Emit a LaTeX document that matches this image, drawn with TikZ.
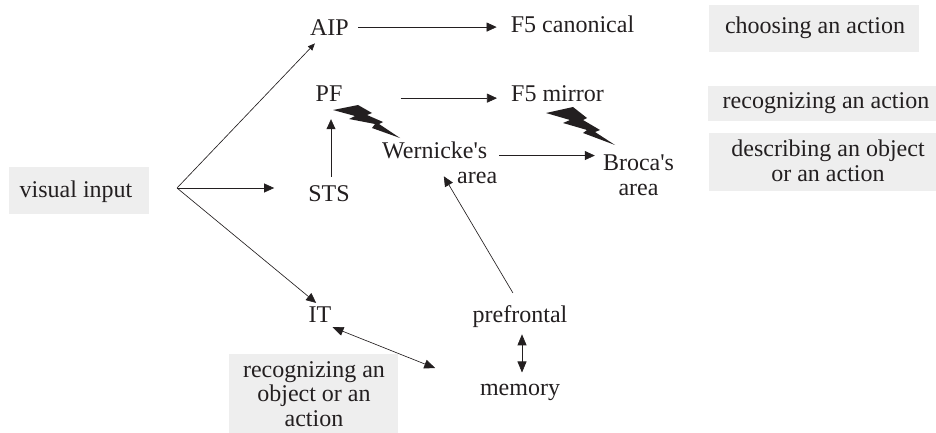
\documentclass[tikz,border=0pt]{standalone}
\usepackage{fontspec}
\setmainfont{Liberation Serif}
\usetikzlibrary{arrows.meta}
\definecolor{boxgray}{RGB}{238,238,238}
\definecolor{ink}{RGB}{35,31,32}
\tikzset{
 lab/.style={inner sep=0pt,anchor=base,font=\fontsize{24}{24.5}\selectfont,align=center,text=ink},
 graybox/.style={fill=boxgray,draw=none},
 conn/.style={draw=ink,line width=0.65pt,-{Triangle[length=10pt,width=9pt]}},
 smallconn/.style={draw=ink,line width=0.65pt,-{Triangle[length=7pt,width=6pt]}},
 biconn/.style={draw=ink,line width=0.65pt,{Triangle[length=11pt,width=9pt]}-{Triangle[length=11pt,width=9pt]}},
 bolt/.style={fill=ink,draw=none}
}
\begin{document}
\begin{tikzpicture}[x=1pt,y=-1pt]
\useasboundingbox (0,0) rectangle (936,433);
\fill[graybox] (9,167) rectangle (149,214);
\fill[graybox] (709,5) rectangle (919,52);
\fill[graybox] (708,86) rectangle (936,121);
\fill[graybox] (709,133) rectangle (936,191);
\fill[graybox] (229,354) rectangle (398,433);
\node[lab] (vis) at (76,197) {visual input};
\node[lab] (choose) at (815,34) {choosing an action};
\node[lab] (recact) at (826,109) {recognizing an action};
\node[lab] (desc) at (828,181) {describing an object\\or an action};
\node[lab] (recobj) at (314,426) {recognizing an\\object or an\\action};
\node[lab] (aip) at (329.5,36) {AIP};
\node[lab] (f5c) at (572.5,33) {F5 canonical};
\node[lab] (pf) at (329,102) {PF};
\node[lab] (f5m) at (557.5,102) {F5 mirror};
\node[lab,anchor=base west,align=left] (wern) at (382,183) {Wernicke\textquotesingle s\\\hspace*{75pt}area};
\node[lab] (broca) at (638.5,195) {Broca\textquotesingle s\\area};
\node[lab] (sts) at (329,201) {STS};
\node[lab] (it) at (320,322) {IT};
\node[lab] (pre) at (520,322) {prefrontal};
\node[lab] (mem) at (520,395) {memory};
\coordinate (hub) at (177,188);
\draw[smallconn,shorten >=10pt] (hub) -- (aip);
\draw[conn,shorten >=34pt] (hub) -- (hub -| sts.west);
\draw[conn,shorten >=5pt] (hub) -- (it.north);
\draw[conn,shorten <=9pt,shorten >=14pt] ([yshift=1pt]aip.east) -- ([yshift=1pt]aip.east -| f5c.west);
\draw[conn,shorten <=58pt,shorten >=14pt] ([yshift=-4pt]pf.east) -- ([yshift=-4pt]pf.east -| f5m.west);
\draw[conn,shorten <=2pt,shorten >=8pt] ([yshift=7pt]wern.east) -- ([yshift=7pt]wern.east -| broca.west);
\draw[conn,shorten <=8pt,shorten >=17pt] ([xshift=2pt]sts.north) -- ([xshift=2pt]pf.south);
\draw[conn,shorten <=14pt,shorten >=16pt] (pre.north) -- ([xshift=-4pt]wern.center);
\draw[biconn,shorten <=7pt,shorten >=11pt] ([xshift=2pt]pre.south) -- ([xshift=2pt]mem.north);
\draw[biconn,shorten >=48pt] ([shift={(1pt,-5pt)}]it.south east) -- ([yshift=6pt]mem.west);
\fill[bolt] (333,110) -- (358,105) -- (372,113) -- (367,115) -- (383,122) -- (379,124) -- (400,138) -- (372,128) -- (375,124) -- (349,119) -- (355,116) -- cycle;
\fill[bolt] (546,113) -- (573,107) -- (587,118) -- (583,120) -- (600,130) -- (595,132) -- (615,145) -- (583,133) -- (587,130) -- (563,123) -- (570,120) -- cycle;
\end{tikzpicture}
\end{document}
